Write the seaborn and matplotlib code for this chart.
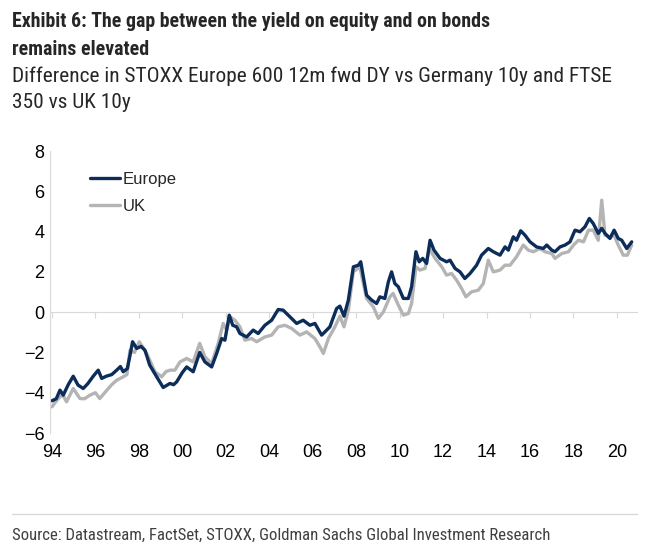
import pandas as pd
import seaborn as sns
import matplotlib.pyplot as plt
from matplotlib.lines import Line2D

# Values (decimal year, yield gap in pp)
eu_year = [1994.00, 1994.20, 1994.37, 1994.52, 1994.75, 1994.98, 1995.20, 1995.44, 1995.65, 1995.90,
           1996.13, 1996.29, 1996.50, 1996.75, 1996.98, 1997.15, 1997.28, 1997.47, 1997.60, 1997.71,
           1997.90, 1998.10, 1998.28, 1998.50, 1998.82, 1999.12, 1999.43, 1999.60, 1999.74, 2000.00,
           2000.20, 2000.50, 2000.80, 2001.04, 2001.35, 2001.58, 2001.81, 2001.96, 2002.16, 2002.32,
           2002.50, 2002.65, 2002.96, 2003.26, 2003.49, 2003.80, 2004.11, 2004.41, 2004.64, 2004.95,
           2005.26, 2005.56, 2005.87, 2006.10, 2006.41, 2006.56, 2006.79, 2007.10, 2007.25, 2007.44,
           2007.64, 2007.87, 2008.10, 2008.21, 2008.33, 2008.48, 2008.71, 2008.94, 2009.09, 2009.32,
           2009.48, 2009.63, 2009.78, 2009.94, 2010.17, 2010.40, 2010.55, 2010.75, 2010.90, 2011.06,
           2011.24, 2011.40, 2011.58, 2011.86, 2012.16, 2012.32, 2012.55, 2012.78, 2013.00, 2013.24,
           2013.54, 2013.77, 2014.08, 2014.31, 2014.62, 2014.85, 2015.00, 2015.23, 2015.38, 2015.57,
           2015.77, 2016.00, 2016.30, 2016.61, 2016.77, 2017.00, 2017.15, 2017.38, 2017.61, 2017.84,
           2018.07, 2018.30, 2018.53, 2018.73, 2018.91, 2019.14, 2019.30, 2019.45, 2019.68, 2019.87,
           2020.06, 2020.22, 2020.45, 2020.68]
eu_val = [-4.40, -4.30, -3.87, -4.12, -3.60, -3.18, -3.62, -3.79, -3.55, -3.18,
          -2.88, -3.29, -3.18, -3.10, -2.88, -2.70, -2.96, -2.80, -2.10, -1.47,
          -1.80, -1.70, -1.89, -2.63, -3.21, -3.74, -3.54, -3.60, -3.46, -3.00,
          -2.72, -2.96, -2.00, -2.47, -2.72, -2.05, -1.31, -1.39, -0.15, -0.65,
          -0.73, -1.06, -1.23, -0.89, -1.06, -0.65, -0.40, 0.13, 0.10, -0.23,
          -0.56, -0.40, -0.65, -0.56, -1.14, -0.98, -0.73, 0.18, 0.30, -0.20,
          0.60, 2.25, 2.33, 2.50, 1.75, 0.84, 0.60, 0.43, 0.76, 0.68,
          1.50, 2.00, 1.42, 1.26, 0.68, 0.68, 1.26, 3.00, 2.50, 2.67,
          2.42, 3.57, 3.08, 2.67, 2.50, 2.58, 2.17, 2.00, 1.67, 1.92,
          2.33, 2.83, 3.16, 3.00, 2.83, 3.24, 3.08, 3.74, 3.57, 4.04,
          3.82, 3.49, 3.24, 3.16, 3.33, 3.08, 3.00, 3.24, 3.33, 3.49,
          4.07, 3.99, 4.24, 4.65, 4.40, 3.91, 4.16, 3.91, 3.66, 4.07,
          3.66, 3.57, 3.16, 3.49]

uk_year = [1994.00, 1994.29, 1994.50, 1994.67, 1994.98, 1995.29, 1995.50, 1995.75, 1996.00, 1996.20,
           1996.50, 1996.75, 1996.98, 1997.28, 1997.45, 1997.59, 1997.80, 1998.02, 1998.36, 1998.74,
           1999.05, 1999.25, 1999.43, 1999.66, 1999.89, 2000.20, 2000.50, 2000.80, 2001.04, 2001.35,
           2001.65, 2001.88, 2002.04, 2002.19, 2002.42, 2002.65, 2002.88, 2003.19, 2003.42, 2003.80,
           2004.11, 2004.41, 2004.72, 2005.03, 2005.41, 2005.72, 2006.10, 2006.33, 2006.49, 2006.72,
           2007.02, 2007.25, 2007.44, 2007.64, 2007.87, 2008.17, 2008.33, 2008.48, 2008.79, 2009.02,
           2009.25, 2009.55, 2009.70, 2009.94, 2010.17, 2010.40, 2010.55, 2010.75, 2010.93, 2011.17,
           2011.36, 2011.63, 2011.94, 2012.16, 2012.39, 2012.62, 2012.85, 2013.05, 2013.31, 2013.62,
           2013.85, 2014.08, 2014.31, 2014.62, 2014.85, 2015.08, 2015.38, 2015.69, 2015.92, 2016.15,
           2016.46, 2016.69, 2017.00, 2017.15, 2017.46, 2017.77, 2018.00, 2018.23, 2018.46, 2018.69,
           2018.91, 2019.14, 2019.30, 2019.45, 2019.68, 2019.87, 2020.06, 2020.29, 2020.48, 2020.68]
uk_val = [-4.70, -4.29, -4.10, -4.45, -3.79, -4.29, -4.30, -4.12, -4.00, -4.29,
          -3.91, -3.60, -3.38, -3.21, -3.10, -1.89, -2.00, -1.47, -2.05, -2.96,
          -3.21, -2.95, -2.88, -2.88, -2.47, -2.30, -2.47, -1.55, -2.22, -2.55,
          -1.55, -0.56, -0.89, -0.23, -0.40, -0.73, -1.39, -1.31, -1.47, -1.23,
          -1.14, -0.73, -0.65, -0.81, -1.14, -0.98, -1.31, -1.72, -2.05, -1.31,
          -0.73, -0.20, -0.73, 0.10, 2.00, 2.25, 1.42, 0.68, 0.26, -0.31,
          0.01, 0.76, 0.93, 0.35, -0.15, -0.07, 0.43, 2.25, 2.09, 2.17,
          3.16, 2.67, 2.25, 1.84, 1.92, 1.59, 1.18, 0.76, 1.01, 1.09,
          1.42, 2.58, 2.00, 2.09, 2.33, 2.33, 2.75, 3.33, 3.08, 3.00,
          3.16, 3.00, 2.91, 2.67, 2.91, 3.00, 3.33, 3.57, 3.49, 4.07,
          4.07, 3.57, 5.56, 3.82, 3.74, 3.82, 3.33, 2.83, 2.83, 3.33]

series_names = ["Europe", "UK"]
series_colors = ["#0c2c5a", "#b4b4b4"]
tick_years = list(range(1994, 2021, 2))
tick_labels = ["94", "96", "98", "00", "02", "04", "06", "08", "10", "12", "14", "16", "18", "20"]

df = pd.concat([
    pd.DataFrame({"year": eu_year, "value": eu_val, "series": "Europe"}),
    pd.DataFrame({"year": uk_year, "value": uk_val, "series": "UK"}),
])

sns.set_style("white")
plt.rcParams["font.family"] = ["Liberation Sans", "DejaVu Sans"]
narrow = ["Roboto Condensed", "Liberation Sans", "DejaVu Sans"]

fig = plt.figure(figsize=(6.5, 5.54), dpi=100)
ax = fig.add_axes([0.0769, 0.2184, 0.903, 0.509])

# draw UK first so Europe sits on top
sns.lineplot(data=df, x="year", y="value", hue="series", hue_order=["UK", "Europe"],
             palette={"Europe": series_colors[0], "UK": series_colors[1]},
             estimator=None, sort=False, linewidth=2.4, ax=ax, legend=False)

ax.set_xlim(1993.91, 2020.92)
ax.set_ylim(-6, 8)
ax.set_yticks(range(-6, 9, 2))
ax.set_xticks(tick_years)
ax.set_xticklabels(tick_labels)
ax.set_xlabel("")
ax.set_ylabel("")

for s in ["top", "right", "bottom"]:
    ax.spines[s].set_visible(False)
ax.spines["left"].set_color("#d9d9d9")
ax.spines["left"].set_linewidth(0.8)
ax.tick_params(axis="x", length=0, pad=8, labelsize=13, colors="black")
ax.tick_params(axis="y", length=3, width=0.8, color="#d9d9d9", pad=1, labelsize=13, labelcolor="black")

# zero line with tick marks
sec = ax.secondary_xaxis(0, transform=ax.transData)
sec.set_xticks(tick_years)
sec.tick_params(axis="x", length=4, width=0.8, color="#d9d9d9", labelbottom=False, labeltop=False)
for sp in sec.spines.values():
    sp.set_color("#d9d9d9")
    sp.set_linewidth(0.8)

handles = [Line2D([], [], color=c, linewidth=2.4) for c in series_colors]
ax.legend(handles, series_names, loc="upper left", bbox_to_anchor=(0.068, 0.925),
          frameon=False, fontsize=12, handlelength=1.8, handletextpad=0.18,
          labelspacing=0.7, borderpad=0, borderaxespad=0)

fig.text(12 / 650, 1 - 27 / 554, "Exhibit 6: The gap between the yield on equity and on bonds",
         family=narrow, fontweight="bold", fontsize=14.3, va="baseline", ha="left")
fig.text(12 / 650, 1 - 55 / 554, "remains elevated",
         family=narrow, fontweight="bold", fontsize=14.3, va="baseline", ha="left")
fig.text(12 / 650, 1 - 82 / 554, "Difference in STOXX Europe 600 12m fwd DY vs Germany 10y and FTSE",
         family=narrow, fontsize=15.4, va="baseline", ha="left")
fig.text(12 / 650, 1 - 108 / 554, "350 vs UK 10y",
         family=narrow, fontsize=15.4, va="baseline", ha="left")

fig.add_artist(Line2D([12 / 650, 637 / 650], [1 - 514 / 554, 1 - 514 / 554],
                      transform=fig.transFigure, color="#d9d9d9", linewidth=1))
fig.text(12 / 650, 1 - 540 / 554, "Source: Datastream, FactSet, STOXX, Goldman Sachs Global Investment Research",
         family=narrow, fontsize=12.1, color="#404040", va="baseline", ha="left")

fig.savefig("out.png", dpi=100)
